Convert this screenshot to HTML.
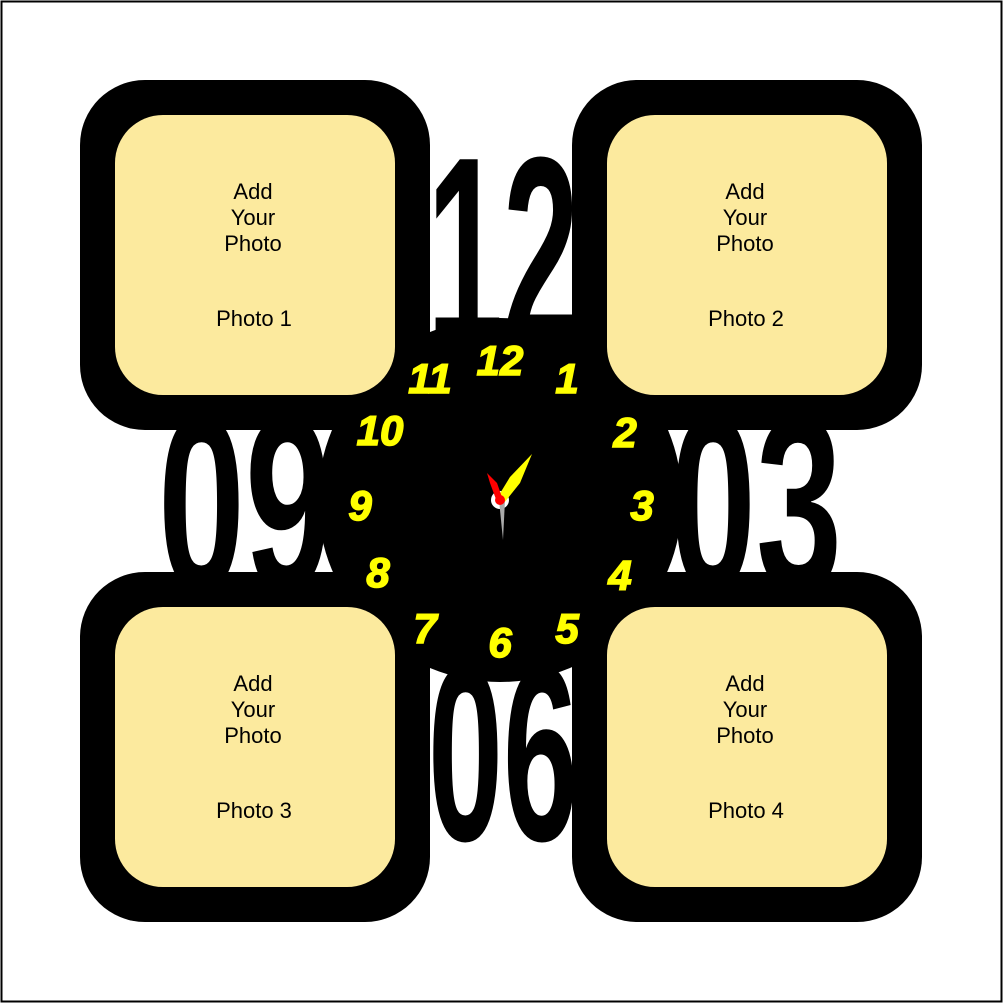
<!DOCTYPE html>
<html><head><style>
html,body{margin:0;padding:0;background:#fff;}
svg{display:block;}
</style></head><body>
<svg width="1003" height="1003" viewBox="0 0 1003 1003" xmlns="http://www.w3.org/2000/svg">
<rect x="1.5" y="1.5" width="1000" height="1000" fill="#fff" stroke="#000" stroke-width="2"/>
<g font-family="Liberation Sans Narrow, Liberation Sans, sans-serif" font-weight="bold" font-size="250" fill="#000">
<text x="427" y="345" font-size="270" textLength="152" lengthAdjust="spacingAndGlyphs">12</text>
<text x="158" y="590" textLength="174" lengthAdjust="spacingAndGlyphs">09</text>
<text x="670" y="590" textLength="172" lengthAdjust="spacingAndGlyphs">03</text>
<text x="428" y="840" textLength="150" lengthAdjust="spacingAndGlyphs">06</text>
</g>
<circle cx="500" cy="500" r="182" fill="#000"/>
<g fill="#000">
<rect x="80" y="80" width="350" height="350" rx="65"/>
<rect x="572" y="80" width="350" height="350" rx="65"/>
<rect x="80" y="572" width="350" height="350" rx="65"/>
<rect x="572" y="572" width="350" height="350" rx="65"/>
</g>
<g fill="#FCEA9E">
<rect x="115" y="115" width="280" height="280" rx="48"/>
<rect x="607" y="115" width="280" height="280" rx="48"/>
<rect x="115" y="607" width="280" height="280" rx="48"/>
<rect x="607" y="607" width="280" height="280" rx="48"/>
</g>
<g font-family="Liberation Sans, sans-serif" font-size="22" fill="#000" text-anchor="middle">
<text x="253" y="199">Add</text><text x="253" y="225">Your</text><text x="253" y="251">Photo</text><text x="254" y="326">Photo 1</text>
<text x="745" y="199">Add</text><text x="745" y="225">Your</text><text x="745" y="251">Photo</text><text x="746" y="326">Photo 2</text>
<text x="253" y="691">Add</text><text x="253" y="717">Your</text><text x="253" y="743">Photo</text><text x="254" y="818">Photo 3</text>
<text x="745" y="691">Add</text><text x="745" y="717">Your</text><text x="745" y="743">Photo</text><text x="746" y="818">Photo 4</text>
</g>
<g font-family="Liberation Sans, sans-serif" font-weight="bold" font-style="italic" font-size="42" fill="#FFFF00" stroke="#FFFF00" stroke-width="1.5" text-anchor="middle">
<text x="500" y="375">12</text>
<text x="567" y="393">1</text>
<text x="625" y="447">2</text>
<text x="642" y="520">3</text>
<text x="620" y="590">4</text>
<text x="567" y="643">5</text>
<text x="500" y="657">6</text>
<text x="425" y="643">7</text>
<text x="378" y="587">8</text>
<text x="360" y="520">9</text>
<text x="380" y="445">10</text>
<text x="430" y="393">11</text>
</g>
<circle cx="500" cy="500" r="9" fill="#fff"/>
<polygon points="496,500 510,477 532,454 520,483 504,503" fill="#FFFF00"/>
<polygon points="497,502 490,483 487,473 497,483 503,500" fill="#f00"/>
<polygon points="499,500 503,540 505,500" fill="#aaa"/>
<circle cx="500" cy="500" r="5" fill="#f00"/>
</svg>
</body></html>
